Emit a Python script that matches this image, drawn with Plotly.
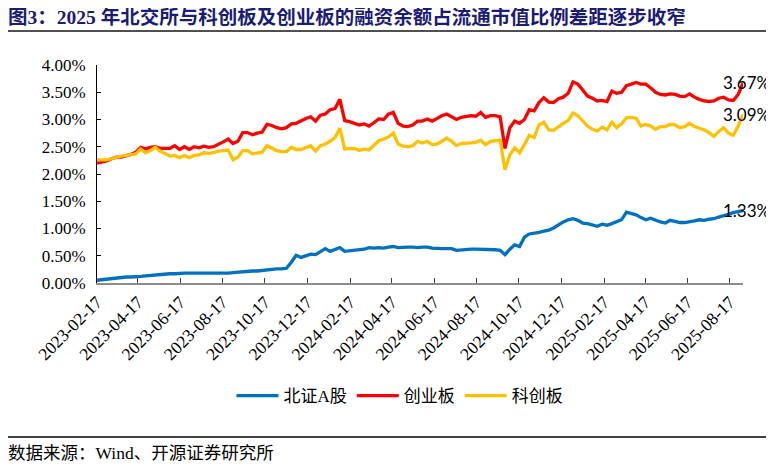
import pandas as pd
import plotly.graph_objects as go

start_date = "2023-02-17"

bse = [0.05,0.06,0.08,0.09,0.10,0.10,0.11,0.11,0.11,0.12,
       0.13,0.14,0.15,0.16,0.17,0.17,0.17,0.18,0.18,0.18,
       0.18,0.18,0.17,0.17,0.17,0.17,0.17,0.18,0.19,0.20,
       0.21,0.22,0.22,0.22,0.23,0.25,0.26,0.26,0.26,0.27,
       0.38,0.51,0.47,0.50,0.53,0.52,0.58,0.63,0.58,0.61,
       0.65,0.58,0.59,0.60,0.61,0.62,0.65,0.64,0.65,0.64,
       0.66,0.67,0.65,0.66,0.66,0.66,0.65,0.66,0.66,0.64,
       0.63,0.63,0.63,0.63,0.60,0.61,0.62,0.62,0.62,0.62,
       0.61,0.62,0.61,0.60,0.52,0.62,0.70,0.67,0.84,0.90,
       0.91,0.93,0.95,0.97,1.01,1.07,1.12,1.16,1.18,1.15,
       1.10,1.09,1.07,1.04,1.08,1.06,1.09,1.13,1.16,1.30,
       1.27,1.25,1.20,1.16,1.19,1.15,1.12,1.10,1.15,1.13,
       1.11,1.11,1.12,1.14,1.16,1.15,1.17,1.18,1.21,1.23,
       1.26,1.29,1.31,1.33]

chinext = [2.20,2.22,2.24,2.28,2.31,2.31,2.33,2.36,2.40,2.49,
           2.46,2.49,2.50,2.47,2.47,2.47,2.52,2.45,2.50,2.45,
           2.50,2.48,2.51,2.49,2.50,2.54,2.59,2.64,2.56,2.60,
           2.76,2.76,2.72,2.75,2.77,2.91,2.89,2.85,2.83,2.85,
           2.92,2.93,2.98,3.02,3.05,2.97,3.08,3.10,3.18,3.20,
           3.37,2.98,2.96,2.93,2.90,2.92,2.88,2.94,3.01,3.00,
           3.10,3.13,2.93,2.88,2.87,2.90,2.97,2.97,3.01,2.97,
           3.02,3.07,3.10,3.05,3.00,3.04,3.05,3.07,3.06,3.13,
           3.04,3.07,3.07,3.05,2.47,2.85,2.97,2.93,3.00,3.18,
           3.16,3.31,3.40,3.32,3.31,3.38,3.41,3.48,3.69,3.65,
           3.54,3.43,3.39,3.34,3.35,3.33,3.52,3.48,3.50,3.62,
           3.65,3.68,3.65,3.65,3.58,3.50,3.46,3.45,3.47,3.46,
           3.43,3.42,3.47,3.41,3.37,3.34,3.33,3.34,3.39,3.41,
           3.36,3.35,3.46,3.67]

star = [2.26,2.26,2.26,2.28,2.31,2.33,2.34,2.35,2.37,2.46,
        2.39,2.43,2.49,2.42,2.37,2.33,2.34,2.30,2.34,2.30,
        2.34,2.35,2.39,2.38,2.39,2.42,2.43,2.44,2.26,2.31,
        2.43,2.43,2.37,2.38,2.40,2.52,2.47,2.43,2.41,2.41,
        2.49,2.45,2.45,2.49,2.52,2.42,2.52,2.55,2.60,2.67,
        2.84,2.46,2.47,2.47,2.43,2.46,2.44,2.52,2.61,2.64,
        2.68,2.75,2.55,2.51,2.50,2.52,2.60,2.57,2.60,2.54,
        2.55,2.60,2.66,2.60,2.52,2.56,2.56,2.57,2.58,2.62,
        2.54,2.60,2.61,2.62,2.08,2.35,2.48,2.39,2.54,2.71,
        2.67,2.90,2.95,2.81,2.80,2.87,2.93,2.98,3.12,3.07,
        2.98,2.88,2.82,2.79,2.86,2.81,2.95,2.85,2.92,3.03,
        3.04,3.02,2.88,2.91,2.88,2.82,2.87,2.87,2.91,2.90,
        2.85,2.87,2.93,2.87,2.84,2.81,2.76,2.69,2.78,2.85,
        2.75,2.71,2.88,3.09]

tick_dates = ["2023-02-17","2023-04-17","2023-06-17","2023-08-17",
              "2023-10-17","2023-12-17","2024-02-17","2024-04-17",
              "2024-06-17","2024-08-17","2024-10-17","2024-12-17",
              "2025-02-17","2025-04-17","2025-06-17","2025-08-17"]
y_ticks = [0, 0.5, 1.0, 1.5, 2.0, 2.5, 3.0, 3.5, 4.0]
y_ticktext = ["0.00%","0.50%","1.00%","1.50%","2.00%","2.50%","3.00%","3.50%","4.00%"]

names = ["北证A股", "创业板", "科创板"]
colors = ["#0070C0", "#FF0000", "#FFC000"]

dates = pd.date_range(start_date, periods=len(bse), freq="7D")

# The page places the figure 8px in from the top-left corner (body margin)
OFF = 8
W, H = 774 - OFF, 467 - OFF
L, R, T, B = 97 - OFF, 743 - OFF, 65 - OFF, 283 - OFF  # plot area in figure pixels

def px(x):
    return (x - OFF - L) / (R - L)

def py(y):
    return (B - (y - OFF)) / (B - T)

fig = go.Figure()
series = [bse, chinext, star]
for name, vals, col in zip(names, series, colors):
    fig.add_trace(go.Scatter(x=dates, y=vals, name=name, mode="lines",
                             line=dict(color=col, width=3.3)))

for vals in series:
    fig.add_annotation(x=dates[-1], y=vals[-1], text=f"{vals[-1]:.2f}%",
                       showarrow=False, xanchor="left", yanchor="middle",
                       xshift=-22, font=dict(family="Lato, Liberation Sans", size=17, color="#000000"))

serif = "Liberation Serif, Noto Sans CJK SC"

fig.update_layout(
    width=W, height=H,
    margin=dict(l=L, r=W - R, t=T, b=H - B),
    paper_bgcolor="white", plot_bgcolor="white",
    showlegend=True,
    legend=dict(orientation="h", xref="container", yref="container",
                x=(400 - OFF) / W, y=1 - (396 - OFF) / H, xanchor="center", yanchor="middle",
                font=dict(family=serif, size=17, color="#000000"),
                itemwidth=42, tracegroupgap=0),
    xaxis=dict(
        range=[dates[0], dates[-1]],
        tickvals=tick_dates, ticktext=tick_dates,
        tickangle=-45,
        showgrid=False, zeroline=False,
        showline=True, linecolor="#8c8c8c", linewidth=2,
        ticks="inside", ticklen=5, tickcolor="#404040", tickwidth=1,
        tickfont=dict(family=serif, size=17.5, color="#000000"),
    ),
    yaxis=dict(
        range=[0, 4], tickvals=y_ticks, ticktext=y_ticktext,
        showgrid=False, zeroline=False,
        showline=True, linecolor="#000000", linewidth=1,
        ticks="inside", ticklen=4, tickcolor="#000000",
        tickfont=dict(family=serif, size=17, color="#000000"),
        ticklabelstandoff=7,
    ),
)

# title
fig.add_annotation(xref="paper", yref="paper", x=px(7), y=py(17),
                   xanchor="left", yanchor="middle", showarrow=False, borderpad=0,
                   text="<b>图3：2025 年北交所与科创板及创业板的融资余额占流通市值比例差距逐步收窄</b>",
                   font=dict(family="Liberation Serif, Noto Sans CJK SC", size=19.5, color="#1B1B78"))
fig.add_shape(type="line", xref="paper", yref="paper",
              x0=px(8), x1=px(774), y0=py(31), y1=py(31),
              line=dict(color="#505050", width=2))
# footer
fig.add_shape(type="line", xref="paper", yref="paper",
              x0=px(8), x1=px(774), y0=py(437), y1=py(437),
              line=dict(color="#000000", width=1.3))
fig.add_annotation(xref="paper", yref="paper", x=px(6), y=py(453),
                   xanchor="left", yanchor="middle", showarrow=False,
                   text="数据来源：Wind、开源证券研究所",
                   font=dict(family=serif, size=17.5, color="#000000"))

fig.write_html("out.html")
